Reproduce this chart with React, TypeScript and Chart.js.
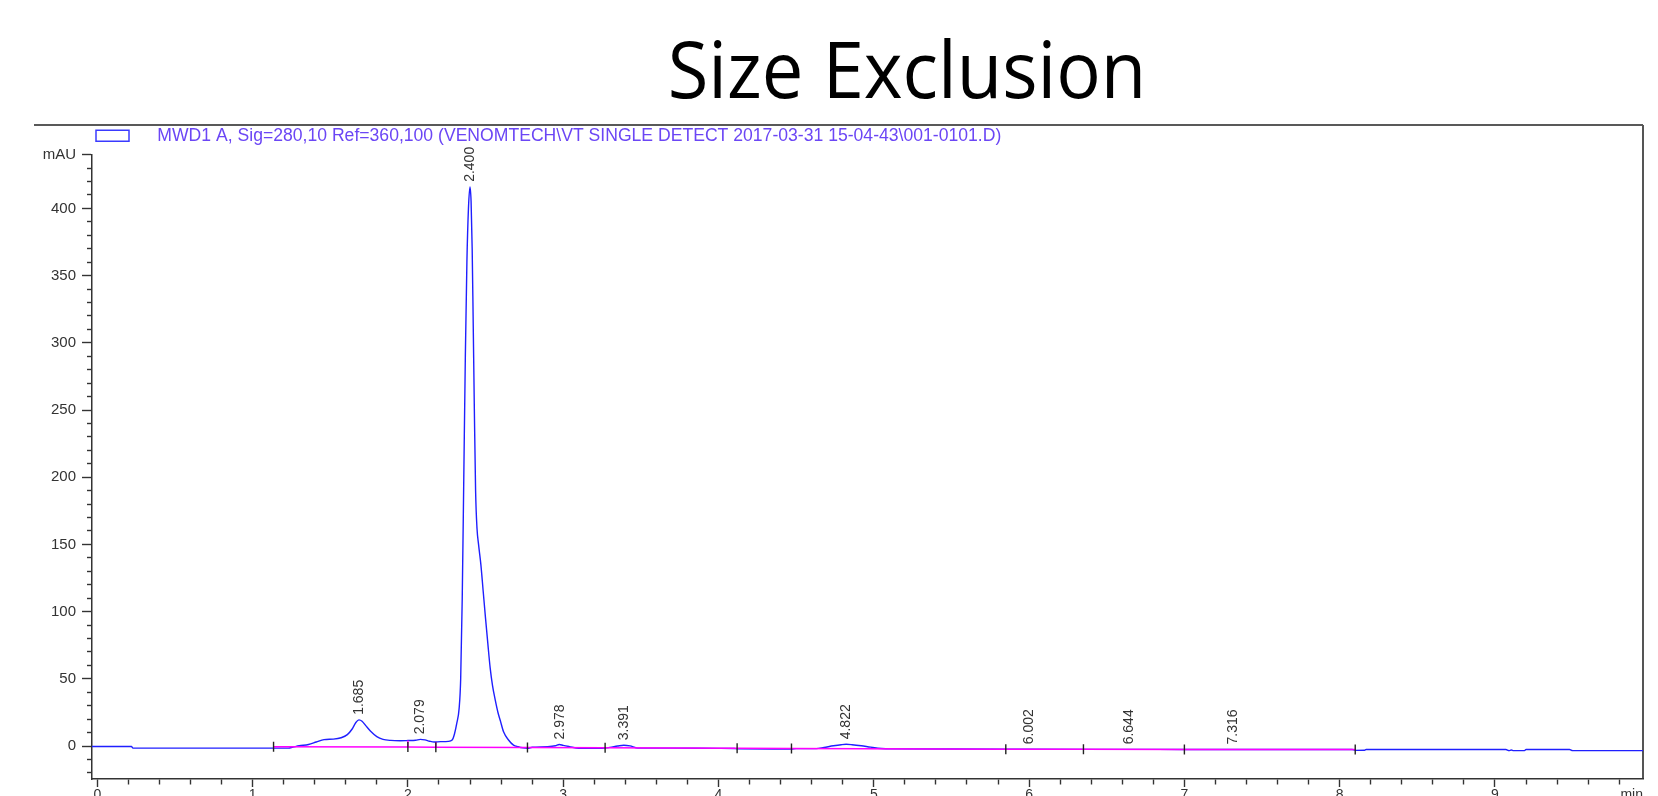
import React, { useEffect, useRef } from 'react';
import { Chart, registerables } from 'chart.js';

Chart.register(...registerables);

// ---- chromatogram signal (min, mAU) ----
const signalTimes = [
  -0.034, 0.22, 0.23, 1.23, 1.26, 1.3, 1.36, 1.41, 1.46, 1.52, 1.57, 1.61, 1.64, 1.665, 1.685, 1.705,
  1.73, 1.76, 1.8, 1.84, 1.89, 1.95, 2.0, 2.05, 2.08, 2.11, 2.14, 2.17, 2.21, 2.26, 2.285, 2.3,
  2.315, 2.33, 2.34, 2.35, 2.36, 2.37, 2.38, 2.39, 2.4, 2.407, 2.414, 2.42, 2.428, 2.436, 2.445,
  2.455, 2.47, 2.485, 2.5, 2.515, 2.53, 2.545, 2.563, 2.58, 2.595, 2.616, 2.648, 2.68, 2.71, 2.74,
  2.77, 2.8, 2.9, 2.95, 2.975, 3.0, 3.04, 3.1, 3.25, 3.3, 3.35, 3.39, 3.43, 3.48, 3.7, 4.0, 4.1,
  4.12, 4.47, 4.5, 4.63, 4.68, 4.74, 4.79, 4.822, 4.86, 4.92, 4.98, 5.05, 5.1, 5.5, 6.0, 6.5, 7.0,
  7.5, 8.08, 8.1, 8.16, 8.17, 9.07, 9.09, 9.105, 9.12, 9.19, 9.2, 9.48, 9.5, 9.953,
];
const signalValues = [
  -0.3, -0.3, -1.5, -1.5, -0.8, 0.2, 1.2, 3, 4.8, 5.2, 6.2, 8.5, 12.5, 17.5, 19.5, 18.5,
  15, 11, 7, 5, 4.2, 4, 4.1, 4.3, 5.0, 4.6, 3.6, 3.0, 3.3, 3.5, 4.5, 9,
  17, 28, 50, 110, 200, 290, 360, 400, 416, 405, 370, 320, 250, 190, 162,
  150, 135, 115, 95, 76, 58, 45, 34, 25, 19, 10.6, 4.5, 0.7, -0.5, -1.3,
  -1.6, -0.9, -0.5, 0.2, 1.2, 0.5, -0.4, -1.6, -1.6, -1.0, 0.0, 0.6, 0.1, -1.5, -1.5, -1.7, -1.8,
  -2.1, -2.2, -1.9, -1.9, -1.0, 0.2, 1.0, 1.3, 1.0, 0.2, -0.8, -1.8, -2.1, -2.2, -2.35, -2.45, -2.5,
  -2.55, -2.6, -3.2, -3.1, -2.6, -2.6, -3.4, -2.9, -3.4, -3.4, -2.6, -2.6, -3.4, -3.4,
];

// ---- integration baseline / event marks ----
const baselineTimes = [1.135, 2.0, 2.18, 2.77, 3.27, 4.12, 4.47, 5.85, 6.35, 7.0, 8.1];
const baselineValues = [-0.5, -0.7, -0.8, -1.1, -1.3, -1.7, -1.9, -2.3, -2.4, -2.5, -2.6];

// ---- drop lines between unresolved peaks ----
const dropTimes = [2.0, 2.18];
const dropBottoms = [-0.7, -0.8];
const dropTops = [4.1, 3.0];

// ---- peak retention-time annotations ----
const peakTimes = [1.685, 2.079, 2.4, 2.978, 3.391, 4.822, 6.002, 6.644, 7.316];
const peakLabels = ['1.685', '2.079', '2.400', '2.978', '3.391', '4.822', '6.002', '6.644', '7.316'];
const peakHeights = [19.5, 5.0, 416, 1.2, 0.6, 1.3, -2.35, -2.45, -2.5];

// ---- axes ----
const yTickValues = [-20, -10, 0, 10, 20, 30, 40, 50, 60, 70, 80, 90, 100, 110, 120, 130, 140, 150, 160, 170, 180, 190, 200,
  210, 220, 230, 240, 250, 260, 270, 280, 290, 300, 310, 320, 330, 340, 350, 360, 370, 380, 390, 400, 410, 420, 430, 440];
const yLabelValues = [0, 50, 100, 150, 200, 250, 300, 350, 400];
const yUnitLabel = 'mAU';
const yUnitValue = 440;
const xLabelValues = [0, 1, 2, 3, 4, 5, 6, 7, 8, 9];
const xMinorStep = 0.2;
const xLastTick = 9.8;
const xUnitLabel = 'min';

const legendText =
  'MWD1 A, Sig=280,10 Ref=360,100 (VENOMTECH\\VT SINGLE DETECT 2017-03-31 15-04-43\\001-0101.D)';
const titleText = 'Size Exclusion';

const FONT = "'Liberation Sans', Arial, Helvetica, sans-serif";

const isMajorX = (v: number) => xLabelValues.some((m) => Math.abs(m - v) < 1e-6);
const isMajorY = (v: number) => yLabelValues.includes(v) || v === yUnitValue;

const annotatePlugin = {
  id: 'chemstationAnnotations',
  beforeDraw(chart: any) {
    const { ctx, chartArea } = chart;
    ctx.save();
    ctx.strokeStyle = '#222';
    ctx.lineWidth = 1.5;
    ctx.beginPath();
    ctx.moveTo(34, 125);
    ctx.lineTo(chartArea.right, 125);
    ctx.stroke();
    ctx.strokeStyle = '#555';
    ctx.lineWidth = 2;
    ctx.beginPath();
    ctx.moveTo(chartArea.right, 125);
    ctx.lineTo(chartArea.right, chartArea.bottom);
    ctx.stroke();
    ctx.restore();
  },
  afterDatasetsDraw(chart: any) {
    const { ctx } = chart;
    const xs = chart.scales.x;
    const ys = chart.scales.y;
    ctx.save();
    ctx.font = `14px ${FONT}`;
    ctx.fillStyle = '#333';
    ctx.textAlign = 'left';
    ctx.textBaseline = 'middle';
    peakTimes.forEach((t, i) => {
      const px = xs.getPixelForValue(t);
      const py = ys.getPixelForValue(peakHeights[i]) - 5;
      ctx.save();
      ctx.translate(px, py);
      ctx.rotate(-Math.PI / 2);
      ctx.fillText(peakLabels[i], 0, 0);
      ctx.restore();
    });
    ctx.restore();
  },
};

export default function App() {
  const canvasRef = useRef<HTMLCanvasElement | null>(null);

  useEffect(() => {
    if (!canvasRef.current) return;

    const signalData = signalTimes.map((t, i) => ({ x: t, y: signalValues[i] }));
    const baselineData = baselineTimes.map((t, i) => ({ x: t, y: baselineValues[i] }));
    const dropData: any[] = [];
    dropTimes.forEach((t, i) => {
      dropData.push({ x: t, y: dropBottoms[i] });
      dropData.push({ x: t, y: dropTops[i] });
      dropData.push({ x: t, y: null });
    });
    const xTicks: number[] = [];
    for (let k = 0; k * xMinorStep <= xLastTick + 1e-9; k++) {
      xTicks.push(Math.round(k * xMinorStep * 10) / 10);
    }

    const chart = new Chart(canvasRef.current, {
      type: 'line',
      data: {
        datasets: [
          {
            label: legendText,
            data: signalData,
            borderColor: '#1f1fff',
            backgroundColor: '#ffffff',
            borderWidth: 1.4,
            pointRadius: 0,
            cubicInterpolationMode: 'monotone',
            order: 3,
          },
          {
            label: 'baseline',
            data: baselineData,
            borderColor: '#ff00ff',
            borderWidth: 1.5,
            pointRadius: 0,
            order: 2,
          },
          {
            label: 'drop',
            data: dropData,
            borderColor: '#ff00ff',
            borderWidth: 1.5,
            pointRadius: 0,
            spanGaps: false,
            order: 1,
          },
          {
            label: 'events',
            data: baselineData,
            showLine: false,
            borderColor: '#222',
            borderWidth: 1.4,
            pointStyle: 'line',
            rotation: 90,
            pointRadius: 5,
            order: 0,
          },
        ] as any,
      },
      options: {
        animation: false,
        responsive: false,
        maintainAspectRatio: false,
        events: [],
        layout: { padding: { top: 31, left: 0, right: 15, bottom: 0 } },
        plugins: {
          tooltip: { enabled: false },
          title: { display: false },
          legend: {
            display: true,
            position: 'top',
            align: 'start',
            labels: {
              boxWidth: 33,
              boxHeight: 11,
              padding: 96,
              color: '#6b46f5',
              font: { family: FONT, size: 17.6 },
              generateLabels: () => [
                {
                  text: '    ' + legendText,
                  fillStyle: '#ffffff',
                  strokeStyle: '#3a3aff',
                  lineWidth: 1.5,
                  fontColor: '#6b46f5',
                  hidden: false,
                  datasetIndex: 0,
                } as any,
              ],
            },
          },
        },
        scales: {
          x: {
            type: 'linear',
            position: 'bottom',
            min: -0.034,
            max: 9.953,
            afterBuildTicks: (scale: any) => {
              scale.ticks = xTicks.map((v) => ({ value: v }));
            },
            afterFit: (scale: any) => {
              scale.height = 40;
            },
            border: { display: true, color: '#333', width: 1.5 },
            grid: {
              display: true,
              drawOnChartArea: false,
              drawTicks: true,
              tickLength: 8,
              tickWidth: 1.4,
              tickColor: '#333',
              tickBorderDash: (ctx: any) => (isMajorX(ctx.tick?.value) ? [] : [5, 100]),
              tickBorderDashOffset: 0,
            },
            ticks: {
              autoSkip: false,
              maxRotation: 0,
              minRotation: 0,
              padding: 0,
              color: '#333',
              font: { family: FONT, size: 14 },
              callback: (v: any) => {
                const n = Number(v);
                return isMajorX(n) ? String(Math.round(n)) : '';
              },
            },
            title: {
              display: true,
              text: xUnitLabel,
              align: 'end',
              color: '#333',
              font: { family: FONT, size: 14 },
              padding: { top: 0, bottom: 15.6 },
            },
          },
          y: {
            type: 'linear',
            position: 'left',
            min: -24.5,
            max: 440,
            afterBuildTicks: (scale: any) => {
              scale.ticks = yTickValues.map((v) => ({ value: v }));
            },
            afterFit: (scale: any) => {
              scale.width = 92;
            },
            border: { display: true, color: '#333', width: 1.5 },
            grid: {
              display: true,
              drawOnChartArea: false,
              drawTicks: true,
              tickLength: 10,
              tickWidth: 1.4,
              tickColor: '#333',
              tickBorderDash: (ctx: any) => (isMajorY(ctx.tick?.value) ? [] : [5, 5]),
              tickBorderDashOffset: (ctx: any) => (isMajorY(ctx.tick?.value) ? 0 : 5),
            },
            ticks: {
              autoSkip: false,
              padding: 6,
              color: '#333',
              font: { family: FONT, size: 15 },
              callback: (v: any) => {
                const n = Number(v);
                if (n === yUnitValue) return yUnitLabel;
                return yLabelValues.includes(n) ? String(n) : '';
              },
            },
          },
        },
      } as any,
      plugins: [annotatePlugin],
    });

    return () => chart.destroy();
  }, []);

  return (
    <div
      style={{
        position: 'fixed',
        left: 0,
        top: 0,
        width: 1658,
        height: 796,
        overflow: 'hidden',
        background: '#ffffff',
      }}
    >
      <canvas
        ref={canvasRef}
        width={1658}
        height={819}
        style={{ position: 'absolute', left: 0, top: 0, width: 1658, height: 819 }}
      />
      <div
        style={{
          position: 'absolute',
          left: 907,
          top: 15,
          transform: 'translateX(-50%) scaleX(0.95)',
          fontFamily: "'Open Sans', 'Noto Sans', sans-serif",
          fontWeight: 400,
          fontSize: 78,
          whiteSpace: 'nowrap',
          color: '#000',
        }}
      >
        {titleText}
      </div>
    </div>
  );
}
